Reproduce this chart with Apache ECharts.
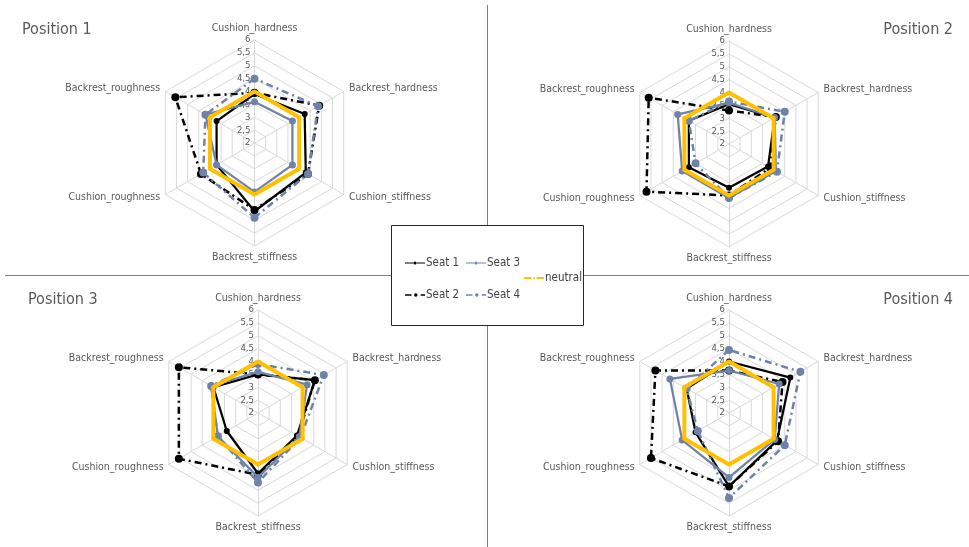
<!DOCTYPE html>
<html>
<head>
<meta charset="utf-8">
<script src="https://cdn.jsdelivr.net/npm/echarts@6/dist/echarts.min.js"></script>
<style>
  html, body { margin: 0; padding: 0; background: #fff; }
  #chart { width: 969px; height: 547px; }
</style>
</head>
<body>
<div id="chart"></div>
<script>
// ---------- DATA ----------
const categories = ['Cushion_hardness', 'Backrest_hardness', 'Cushion_stiffness', 'Backrest_stiffness', 'Cushion_roughness', 'Backrest_roughness'];
const seriesNames = ['Seat 1', 'Seat 2', 'Seat 3', 'Seat 4', 'neutral'];
const positions = ['Position 1', 'Position 2', 'Position 3', 'Position 4'];
const tickMin = 2;
const tickMax = 6;
const tickStep = 0.5;

// values in category order
const p1_seat1 = [3.9, 4.25, 4.3, 4.65, 3.7, 3.7];
const p1_seat2 = [3.95, 4.9, 4.4, 4.6, 4.4, 5.55];
const p1_seat3 = [3.6, 3.7, 3.7, 3.9, 3.7, 4.2];
const p1_seat4 = [4.5, 4.85, 4.4, 4.9, 4.3, 4.2];
const p1_neutral = [4, 4, 4, 4, 4, 4];

const p2_seat1 = [3.55, 4.05, 3.75, 3.7, 3.8, 3.8];
const p2_seat2 = [3.3, 4.1, 3.85, 4.0, 5.7, 5.6];
const p2_seat3 = [3.6, 4.05, 4.1, 4.1, 4.1, 4.3];
const p2_seat4 = [3.65, 4.5, 4.15, 4.1, 3.5, 3.8];
const p2_neutral = [4, 4, 4, 4, 4, 4];

const p3_seat1 = [3.5, 4.55, 3.75, 4.35, 3.4, 4.0];
const p3_seat2 = [3.5, 4.55, 3.8, 4.4, 5.55, 5.55];
const p3_seat3 = [3.6, 4.2, 3.85, 4.5, 3.8, 4.1];
const p3_seat4 = [3.9, 4.95, 3.9, 4.7, 3.8, 4.1];
const p3_neutral = [4, 4, 4, 4, 4, 4];

const p4_seat1 = [4.0, 4.75, 4.15, 4.85, 3.5, 3.9];
const p4_seat2 = [3.65, 4.4, 4.2, 4.85, 5.5, 5.3];
const p4_seat3 = [3.65, 4.25, 4.05, 4.5, 4.1, 4.65];
const p4_seat4 = [4.45, 5.2, 4.5, 5.3, 3.4, 3.9];
const p4_neutral = [4, 4, 4, 4, 4, 4];

const positionData = [
  [p1_seat1, p1_seat2, p1_seat3, p1_seat4, p1_neutral],
  [p2_seat1, p2_seat2, p2_seat3, p2_seat4, p2_neutral],
  [p3_seat1, p3_seat2, p3_seat3, p3_seat4, p3_neutral],
  [p4_seat1, p4_seat2, p4_seat3, p4_seat4, p4_neutral]
];

// ---------- STYLE ----------
const FONT = "'DejaVu Sans Condensed', 'DejaVu Sans', sans-serif";
const TXT = '#595959';
const BLUE = '#6F82A8';
const dashDot = [7, 4, 2, 4];
const seriesStyle = [
  { color: '#000000', width: 2.25, type: 'solid', size: 6 },
  { color: '#000000', width: 2.5, type: dashDot, size: 8 },
  { color: BLUE, width: 2.25, type: 'solid', size: 7 },
  { color: BLUE, width: 2.5, type: dashDot, size: 8 },
  { color: '#FFC000', width: 4, type: 'solid', size: 4 }
];
// legend icons (line + dot glyphs)
const legendIcons = [
  'path://M0,1.4h8.2v1.2h-8.2z M10,0.4a1.6,1.6 0 1,1 -0.001,0z M11.8,1.4h8.2v1.2h-8.2z',
  'path://M0,1.3h6v1.4h-6z M10,0.4a1.6,1.6 0 1,1 -0.001,0z M14.5,1.3h4v1.4h-4z',
  'path://M0,1.4h8.2v1.2h-8.2z M10,0.4a1.6,1.6 0 1,1 -0.001,0z M11.8,1.4h8.2v1.2h-8.2z',
  'path://M0,1.3h6v1.4h-6z M10,0.4a1.6,1.6 0 1,1 -0.001,0z M14.5,1.3h4v1.4h-4z',
  'path://M0,1h7.5v2h-7.5z M9,1.2h2v1.6h-2z M12.5,1h7.5v2h-7.5z'
];
const centers = [[254.5, 143], [729, 144], [258, 413], [729, 413]];
const radius = 103;

// ECharts places indicators counter-clockwise; picture goes clockwise
const drawOrder = [0, 5, 4, 3, 2, 1];

const radars = centers.map(c => ({
  center: c,
  radius: radius,
  startAngle: 90,
  shape: 'polygon',
  splitNumber: Math.round((tickMax - tickMin) / tickStep),
  nameGap: 6,
  axisName: { color: TXT, fontSize: 10.5, fontFamily: FONT },
  splitLine: { lineStyle: { color: '#d9d9d9', width: 1 } },
  splitArea: { show: false },
  axisLine: { lineStyle: { color: '#d9d9d9', width: 1 } },
  axisTick: { show: false },
  axisLabel: {
    show: false, color: TXT, fontSize: 9.5, fontFamily: FONT, margin: 4,
    formatter: v => String(v).replace('.', ',')
  },
  indicator: drawOrder.map((ci, k) => {
    const ind = { name: categories[ci], min: tickMin, max: tickMax };
    if (k === 0) ind.axisLabel = { show: true };
    return ind;
  })
}));

const series = [];
positionData.forEach((arrs, ri) => {
  arrs.forEach((vals, si) => {
    const st = seriesStyle[si];
    series.push({
      type: 'radar',
      name: seriesNames[si],
      radarIndex: ri,
      symbol: 'circle',
      symbolSize: st.size,
      itemStyle: { color: st.color },
      lineStyle: { color: st.color, width: st.width, type: st.type },
      z: 2 + si,
      data: [{ value: drawOrder.map(ci => vals[ci]), name: seriesNames[si] }]
    });
  });
});

const legendPos = [
  { left: 405, top: 257 },
  { left: 405, top: 289 },
  { left: 466, top: 257 },
  { left: 466, top: 289 },
  { left: 524, top: 272 }
];
const legends = seriesNames.map((n, i) => ({
  data: [{ name: n, icon: legendIcons[i] }],
  left: legendPos[i].left,
  top: legendPos[i].top,
  itemWidth: 20,
  itemHeight: 4,
  itemGap: 0,
  padding: 0,
  textStyle: { color: '#404040', fontSize: 11.5, fontFamily: FONT, padding: [0, 0, 0, -4] }
}));

const titlePos = [
  { left: 22, top: 22 },
  { right: 16, top: 22 },
  { left: 28, top: 292 },
  { right: 16, top: 292 }
];
const titles = positions.map((t, i) => Object.assign({
  text: t,
  padding: 0,
  textStyle: { color: TXT, fontSize: 16, fontWeight: 'normal', fontFamily: FONT }
}, titlePos[i]));

const chart = echarts.init(document.getElementById('chart'), null, { renderer: 'canvas' });
chart.setOption({
  backgroundColor: '#ffffff',
  animation: false,
  textStyle: { fontFamily: FONT },
  title: titles,
  legend: legends,
  radar: radars,
  series: series,
  graphic: [
    { type: 'line', z: 1, shape: { x1: 487.5, y1: 5, x2: 487.5, y2: 547 }, style: { stroke: '#808080', lineWidth: 1 } },
    { type: 'line', z: 1, shape: { x1: 5, y1: 275.5, x2: 969, y2: 275.5 }, style: { stroke: '#808080', lineWidth: 1 } },
    { type: 'rect', z: 2, shape: { x: 391.5, y: 225.5, width: 192, height: 100 }, style: { fill: '#ffffff', stroke: '#262626', lineWidth: 1 } }
  ]
});
</script>
</body>
</html>
